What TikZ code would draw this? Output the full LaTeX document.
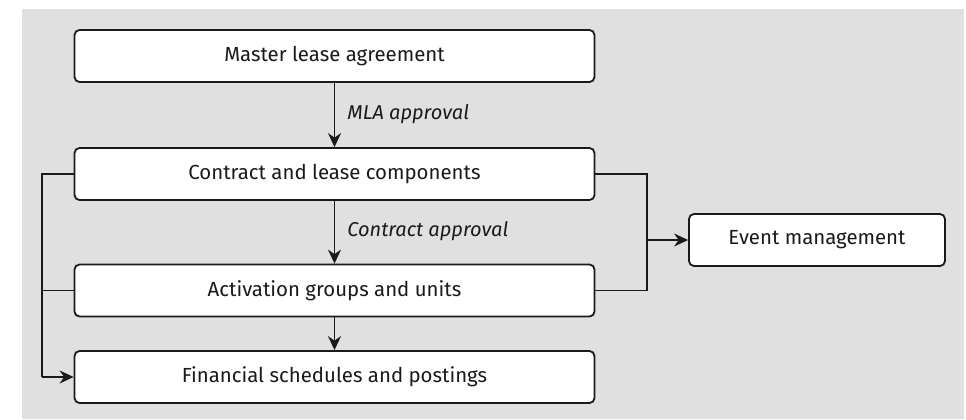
\documentclass[tikz,border=0pt]{standalone}
\usepackage{fontspec}
\setmainfont{Fira Sans}
\usepackage{xcolor}
\usetikzlibrary{arrows.meta}
\definecolor{bggray}{HTML}{E0E0E0}
\definecolor{ink}{HTML}{1A1A1A}
\tikzstyle{box}=[draw=ink, text=ink, fill=white, rounded corners=2.5pt, line width=.9pt, inner sep=0pt, minimum width=260pt, minimum height=26pt]
\tikzstyle{lbl}=[draw=none, text=ink, inner sep=0pt, anchor=west, font=\itshape]
\tikzstyle{wire}=[draw=ink, line width=.75pt]
\tikzstyle{tip}=[-{Stealth[length=7pt, width=6.5pt]}]

\begin{document}
\begin{tikzpicture}[x=.5pt, y=-.5pt, font=\fontsize{10.2}{12}\selectfont]
\useasboundingbox (0,0) rectangle (966,419);
\fill[bggray] (22,9) rectangle (964,419);
\foreach \n/\y/\t in {master/56/Master lease agreement, contract/174/Contract and lease components, activation/290.5/Activation groups and units, financial/377/Financial schedules and postings}
  \node[box] (\n) at (334.5, \y) {\t};
\node[box, minimum width=128pt] (event) at (817, 240) {Event management};
\coordinate (rj) at (647, 240);
\coordinate (lj) at (42, 377);
\foreach \f/\t in {master/contract, contract/activation, activation/financial}
  \draw[wire, tip] (\f) -- (\t);
\node[lbl] (mla) at (347, 114) {MLA approval};
\node[lbl] (ca) at (347, 231) {Contract approval};
% to event management
\draw[wire] (contract.east) -| (rj);
\draw[wire] (activation.east) -| (rj);
\draw[wire, tip] (rj) -- (event);
% to financial schedules
\draw[wire] (contract.west) -| (lj);
\draw[wire] (activation.west) -- (activation.west -| lj);
\draw[wire, tip] (lj) -- (financial);
\end{tikzpicture}
\end{document}
